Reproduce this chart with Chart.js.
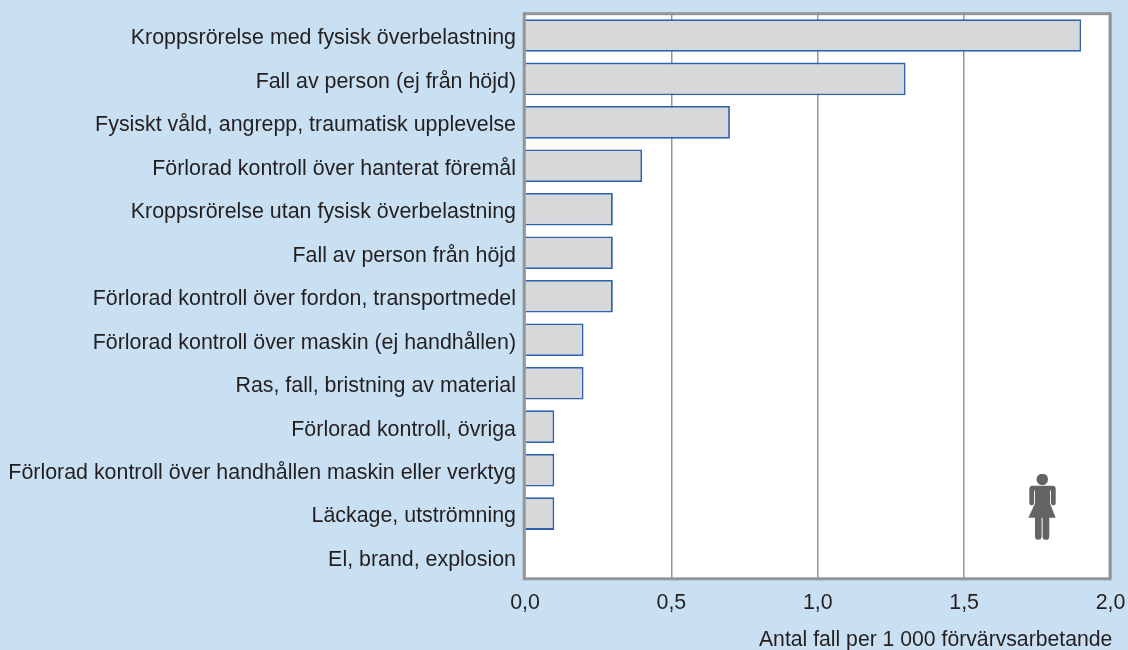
<!DOCTYPE html>
<html><head><meta charset="utf-8">
<style>html,body{margin:0;padding:0;background:#c9e0f3;width:1128px;height:650px;overflow:hidden}
#w{position:relative;width:1128px;height:650px}canvas{display:block}
svg{position:absolute;left:1028px;top:474px}</style>
<script src="https://cdn.jsdelivr.net/npm/chart.js@4"></script></head>
<body><div id="w"><canvas id="c" width="1128" height="650"></canvas>
<svg width="29" height="66" viewBox="0 0 29 66"><g fill="#636466">
<circle cx="14.3" cy="5.4" r="5.7"/>
<path d="M4.200 11.700H24.400a3.300 3.300 0 0 1 3.300 3.300V29a2.400 2.400 0 0 1-4.800 0V16.500h-.9V29.500L27.700 43.700H21.300V62.500a3.300 3.300 0 0 1-6.700 0V43.700h-1V62.500a3.300 3.300 0 0 1-6.600 0V43.700H.3L7 29.500V16.500h-.9V29a2.400 2.400 0 0 1-4.800 0V15a3.300 3.300 0 0 1 2.900-3.300z"/></g></svg></div>
<script>
const categories=["Kroppsrörelse med fysisk överbelastning","Fall av person (ej från höjd)","Fysiskt våld, angrepp, traumatisk upplevelse","Förlorad kontroll över hanterat föremål","Kroppsrörelse utan fysisk överbelastning","Fall av person från höjd","Förlorad kontroll över fordon, transportmedel","Förlorad kontroll över maskin (ej handhållen)","Ras, fall, bristning av material","Förlorad kontroll, övriga","Förlorad kontroll över handhållen maskin eller verktyg","Läckage, utströmning","El, brand, explosion"];
const values=[1.9,1.3,0.7,0.4,0.3,0.3,0.3,0.2,0.2,0.1,0.1,0.1,0];
const xTicks=[0,0.5,1,1.5,2];
const axisTitle="Antal fall per 1 000 förvärvsarbetande";
const frame={id:'frame',
beforeDraw(ch){const a=ch.chartArea,x=ch.ctx;x.save();x.fillStyle='#fff';x.fillRect(a.left,a.top,a.right-a.left,a.bottom-a.top);x.restore();},
beforeDatasetsDraw(ch){const a=ch.chartArea,x=ch.ctx;x.save();x.strokeStyle='#939598';x.lineWidth=3;x.strokeRect(a.left-.8,a.top,a.right-a.left+.3,a.bottom-a.top);x.restore();}};
const font={family:'"Liberation Sans",Arial,sans-serif',size:21.4};
const titleFont={family:'"Liberation Sans",Arial,sans-serif',size:21.2};
const nopad=s=>{s.paddingLeft=0;s.paddingRight=0;s.paddingTop=0;s.paddingBottom=0;};
new Chart(document.getElementById('c'),{type:'bar',
data:{labels:categories,datasets:[{data:values.map(v=>v===0?null:v),backgroundColor:'#d7d8da',borderColor:'#2f62ad',borderWidth:1.8,categoryPercentage:0.75,barPercentage:1}]},
plugins:[frame],
options:{indexAxis:'y',responsive:false,animation:false,
layout:{padding:{top:13.7,right:17.5,bottom:0,left:0}},
plugins:{legend:{display:false},tooltip:{enabled:false}},
scales:{
x:{min:0,max:2,afterBuildTicks(s){s.ticks=xTicks.map(v=>({value:v}));},
grid:{color:'#939598',lineWidth:1.5,drawTicks:false},border:{display:false},
ticks:{color:'#231f20',font,padding:11,maxRotation:0,callback:v=>v.toFixed(1).replace('.',',')},
title:{display:true,text:axisTitle,color:'#231f20',font:titleFont,align:'end',padding:{top:7,bottom:-3}},
afterFit(s){s.height=71.2;nopad(s);
 const d=s.drawTitle;s.drawTitle=function(){const r=this.right;this.right=r+1.8;d.call(this);this.right=r;};}},
y:{grid:{display:false,drawTicks:false},border:{display:false},
ticks:{color:'#231f20',font,padding:9,labelOffset:3,autoSkip:false},
afterFit(s){s.width=525;nopad(s);}}
}}});
</script></body></html>
